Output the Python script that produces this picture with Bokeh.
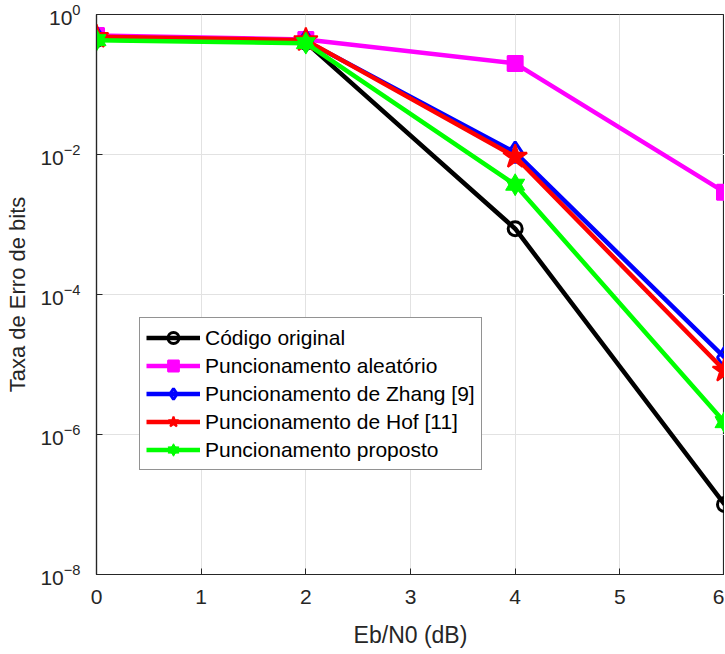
from bokeh.plotting import figure
from bokeh.models import (FixedTicker, Legend, LegendItem, Range1d)
from bokeh.embed import file_html
from bokeh.resources import INLINE

ebn0 = [0, 2, 4, 6]
codigo_original = [0.44, 0.40, 8.7e-4, 1.0e-7]
aleatorio = [0.50, 0.44, 0.20, 2.9e-3]
zhang = [0.47, 0.42, 0.0107, 1.26e-5]
hof = [0.48, 0.43, 0.0093, 8.2e-6]
proposto = [0.43, 0.39, 3.7e-3, 1.5e-6]

labels = ["Código original", "Puncionamento aleatório",
          "Puncionamento de Zhang [9]", "Puncionamento de Hof [11]",
          "Puncionamento proposto"]
x_ticks = [0, 1, 2, 3, 4, 5, 6]
y_ticks = [1e-8, 1e-6, 1e-4, 1e-2, 1]

FONT = "Liberation Sans"
TXT = "#262626"

p = figure(width=724, height=650, y_axis_type="log",
           x_range=Range1d(0, 6), y_range=Range1d(1e-8, 1),
           output_backend="svg", toolbar_location=None,
           min_border_left=96, min_border_right=0, min_border_top=14,
           min_border_bottom=75)
p.background_fill_color = "white"
p.outline_line_color = TXT
p.outline_line_width = 1.2

p.xaxis.ticker = FixedTicker(ticks=x_ticks)
p.yaxis.ticker = FixedTicker(ticks=y_ticks)
for ax in (p.xaxis[0], p.yaxis[0]):
    ax.axis_line_color = TXT
    ax.axis_line_width = 1.2
    ax.major_tick_in = 6
    ax.major_tick_out = 0
    ax.major_tick_line_color = TXT
    ax.minor_tick_line_color = None
    ax.major_label_text_font = FONT
    ax.major_label_text_font_size = "21px"
    ax.major_label_text_color = TXT
    ax.axis_label_text_font = FONT
    ax.axis_label_text_font_style = "normal"
    ax.axis_label_text_color = TXT

p.xaxis.axis_label = "Eb/N0 (dB)"
p.xaxis.axis_label_text_font_size = "23px"
p.xaxis.axis_label_standoff = 15
p.xaxis.major_label_standoff = 15
p.yaxis.axis_label = "Taxa de Erro de bits"
p.yaxis.axis_label_text_font_size = "22px"
p.yaxis.axis_label_standoff = 7
p.yaxis.major_label_standoff = 16

p.grid.grid_line_color = "#e2e2e2"
p.grid.grid_line_width = 1
p.xgrid.ticker = FixedTicker(ticks=x_ticks)
p.ygrid.ticker = FixedTicker(ticks=y_ticks)

LW = 4.5
items = []

# Código original: black, open circle
r1 = p.line(ebn0, codigo_original, line_color="black", line_width=LW)
m1 = p.scatter(ebn0, codigo_original, marker="circle", size=14,
               line_color="black", line_width=3, fill_color=None)
items.append(LegendItem(label=labels[0], renderers=[r1, m1]))

# Aleatório: magenta, filled square
r2 = p.line(ebn0, aleatorio, line_color="#ff00ff", line_width=LW)
m2 = p.scatter(ebn0, aleatorio, marker="square", size=15,
               line_color="#ff00ff", line_width=2, fill_color="#ff00ff")
items.append(LegendItem(label=labels[1], renderers=[r2, m2]))

# Zhang: blue, open diamond
r3 = p.line(ebn0, zhang, line_color="#0000ff", line_width=LW)
m3 = p.scatter(ebn0, zhang, marker="diamond", size=21,
               line_color="#0000ff", line_width=3, fill_color=None)
items.append(LegendItem(label=labels[2], renderers=[r3, m3]))

# Hof: red, filled star
r4 = p.line(ebn0, hof, line_color="#ff0000", line_width=LW)
m4 = p.scatter(ebn0, hof, marker="star", size=25,
               line_color="#ff0000", line_width=2, fill_color="#ff0000")
items.append(LegendItem(label=labels[3], renderers=[r4, m4]))

# Proposto: green, filled hexagram (two triangles)
r5 = p.line(ebn0, proposto, line_color="#00ff00", line_width=LW)
m5a = p.scatter(ebn0, proposto, marker="triangle", size=19,
                line_color="#00ff00", line_width=1, fill_color="#00ff00")
m5b = p.scatter(ebn0, proposto, marker="inverted_triangle", size=19,
                line_color="#00ff00", line_width=1, fill_color="#00ff00")
items.append(LegendItem(label=labels[4], renderers=[r5, m5a, m5b]))

legend = Legend(items=items, location=(43, 104))
legend.label_text_font = FONT
legend.label_text_font_size = "21px"
legend.label_text_color = "black"
legend.glyph_width = 54
legend.glyph_height = 27
legend.label_height = 27
legend.spacing = 1
legend.padding = 6
legend.margin = 0
legend.label_standoff = 5
legend.border_line_color = TXT
legend.border_line_width = 1.2
legend.background_fill_alpha = 1
p.add_layout(legend, "center")

open("out.html", "w").write(file_html(p, INLINE))
